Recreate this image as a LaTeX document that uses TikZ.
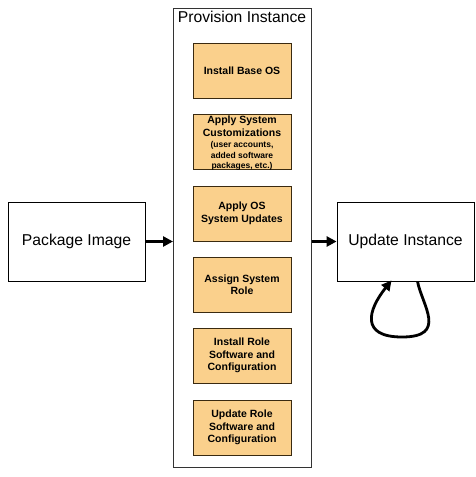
\documentclass[tikz,border=0pt]{standalone}
\usepackage{fontspec}
\setmainfont{Liberation Sans}
\usetikzlibrary{arrows.meta}
\definecolor{stepfill}{HTML}{FAD08C}
\definecolor{stepdraw}{HTML}{3A2A10}
\tikzset{
  stepbox/.style={draw=stepdraw, line width=0.9pt, fill=stepfill, minimum width=98pt, minimum height=55pt, align=center, font=\fontsize{10.5}{12.5}\selectfont\bfseries, inner sep=1pt},
  steptext/.style={align=center, font=\fontsize{10.5}{12.5}\selectfont\bfseries, inner sep=0pt},
  bigbox/.style={draw=black, line width=0.8pt, minimum width=137pt, minimum height=79pt, font=\fontsize{15.7}{18}\selectfont},
  bigarrow/.style={line width=2.8pt, -{Triangle[length=10pt,width=10pt]}},
}
\begin{document}
\begin{tikzpicture}[x=1pt,y=-1pt]
\useasboundingbox (0,0) rectangle (476,477);
\node[draw=black!80, line width=0.8pt, minimum width=138pt, minimum height=459pt, anchor=north west, inner sep=0pt] (prov) at (173,8) {};
\node[font=\fontsize{15.7}{18}\selectfont, anchor=north] (title) at (242,8) {Provision Instance};
\node[stepbox] (s1) at (242,70.5) {Install Base OS};
\node[stepbox] (s2) at (242,141.5) {};
\node[steptext] (s2t) at ([yshift=-2pt]s2.center) {Apply System\\Customizations\\[-1pt]{\fontsize{8.5}{10}\selectfont (user accounts,}\\[-2pt]{\fontsize{8.5}{10}\selectfont added software}\\[-2pt]{\fontsize{8.5}{10}\selectfont packages, etc.)}};
\node[stepbox] (s3) at (242,213.5) {Apply OS\\System Updates};
\node[stepbox] (s4) at (242,284.5) {Assign System\\Role};
\node[stepbox] (s5) at (242,355.5) {Install Role\\Software and\\Configuration};
\node[stepbox] (s6) at (242,427.5) {Update Role\\Software and\\Configuration};
\node[bigbox] (pkg) at (76.5,241.5) {Package Image};
\node[bigbox] (upd) at (405.5,241.5) {Update Instance};
\draw[bigarrow] (pkg.east) -- (prov.west |- pkg.east);
\draw[bigarrow] (prov.east |- upd.west) -- (upd.west);
\coordinate (loopstart) at ([xshift=12pt]upd.south);
\coordinate (loopend) at ([xshift=-14pt,yshift=1pt]upd.south);
\draw[line width=2.8pt, -{Triangle[length=10pt,width=10pt]}] (loopstart) .. controls (422,305) and (448,337) .. (402,337) .. controls (360,337) and (368,310) .. (loopend);
\end{tikzpicture}
\end{document}
